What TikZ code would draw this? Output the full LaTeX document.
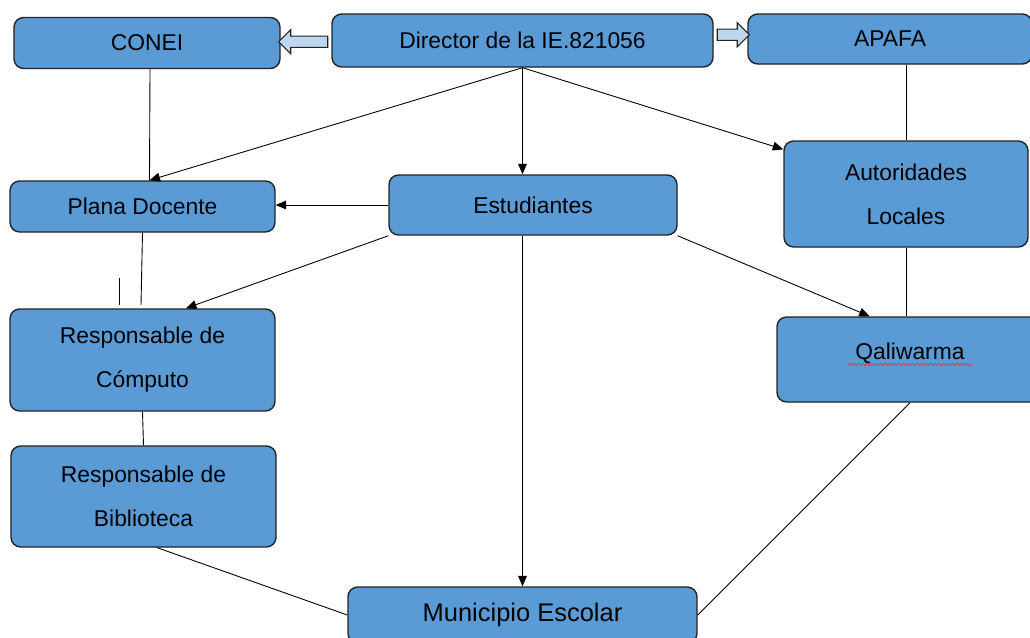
\documentclass[tikz,border=0pt]{standalone}
\usepackage{fontspec}
\setmainfont{Liberation Sans}
\usepackage{tikz}
\usetikzlibrary{arrows.meta,shapes.arrows,positioning,calc,decorations.pathmorphing}
\definecolor{boxblue}{RGB}{91,155,213}
\definecolor{arrowblue}{RGB}{189,215,238}
\definecolor{edgegray}{RGB}{35,35,35}
\definecolor{spellred}{RGB}{215,55,70}

\begin{document}
\begin{tikzpicture}[
    box/.style={draw=edgegray, line width=0.8pt, rounded corners=5.5pt, fill=boxblue, align=center, inner sep=0pt, font=\fontsize{13}{25}\selectfont},
    arr/.style={-{Triangle[length=6pt,width=5pt]}, line width=0.5pt},
    link/.style={line width=0.5pt},
    fatarrow/.style={single arrow, draw=edgegray, line width=0.6pt, fill=arrowblue, inner sep=0.1cm, minimum width=0.46cm, single arrow head extend=0.13cm},
    squig/.style={spellred, line width=0.4pt, decorate, decoration={snake, segment length=0.09cm, amplitude=0.025cm}}
]
\path[use as bounding box, clip] (0,0) rectangle (20.6,-12.76);

\node[box, minimum width=5.32cm, minimum height=1.02cm] (conei) at (2.94,-0.86) {CONEI};
\node[box, minimum width=7.62cm, minimum height=1.06cm] (director) at (10.45,-0.81) {Director de la IE.821056};
\node[box, minimum width=5.68cm, minimum height=1.0cm] (apafa) at (17.8,-0.78) {APAFA};
\node[box, minimum width=5.3cm, minimum height=1.02cm] (plana) at (2.85,-4.13) {Plana Docente};
\node[box, minimum width=5.76cm, minimum height=1.2cm] (estud) at (10.66,-4.10) {Estudiantes};
\node[box, minimum width=4.88cm, minimum height=2.12cm] (autor) at (18.12,-3.88) {Autoridades\\Locales};
\node[box, minimum width=5.3cm, minimum height=2.04cm] (computo) at (2.85,-7.2) {Responsable de\\Cómputo};
\node[box, minimum width=5.32cm, minimum height=1.7cm, text depth=0.33cm] (qali) at (18.2,-7.19) {Qaliwarma};
\node[box, minimum width=5.3cm, minimum height=2.02cm] (biblio) at (2.87,-9.93) {Responsable de\\Biblioteca};
\node[box, minimum width=6.98cm, minimum height=1.12cm, font=\fontsize{14.5}{25}\selectfont] (muni) at (10.45,-12.3) {Municipio Escolar};

% flechas huecas del director
\node[fatarrow, shape border rotate=180, minimum height=0.98cm] (toconei) at ($(conei.east)!0.5!(director.west)$) {};
\node[fatarrow, minimum height=0.64cm] (toapafa) at ($(director.east)!0.5!(apafa.west)+(0,0.1)$) {};

\draw[arr] (director.south) -- ([xshift=0.14cm]plana.north);
\draw[arr] (director.south) -- (director.south |- estud.north);
\draw[arr] (director.south) -- (autor.160);
\draw[link] ([xshift=0.06cm]conei.south) -- ([xshift=0.14cm]plana.north);
\draw[link] (apafa.south -| autor.north) -- (autor.north);

\draw[arr] (estud.west) -- (estud.west -| plana.east);
\draw[arr] (estud.192) -- (computo.50);
\draw[arr] (director.south |- estud.south) -- (director.south |- muni.north);
\draw[arr] (estud.-12) -- (qali.133);
\draw[link] (autor.south) -- (autor.south |- qali.north);

\coordinate (pdend) at (2.82,-6.1);
\coordinate (ticktop) at (2.38,-5.56);
\coordinate (tickbot) at (2.38,-6.1);
\draw[link] (plana.south) -- (pdend);
\draw[link] (ticktop) -- (tickbot);
\draw[link] (computo.south) -- (biblio.north);
\draw[link] (biblio.-75) -- (muni.west);
\draw[link] (qali.south) -- (muni.east);

\draw[squig] ([shift={(-1.24,-0.1)}]qali.base) -- ([shift={(1.24,-0.1)}]qali.base);
\end{tikzpicture}
\end{document}
